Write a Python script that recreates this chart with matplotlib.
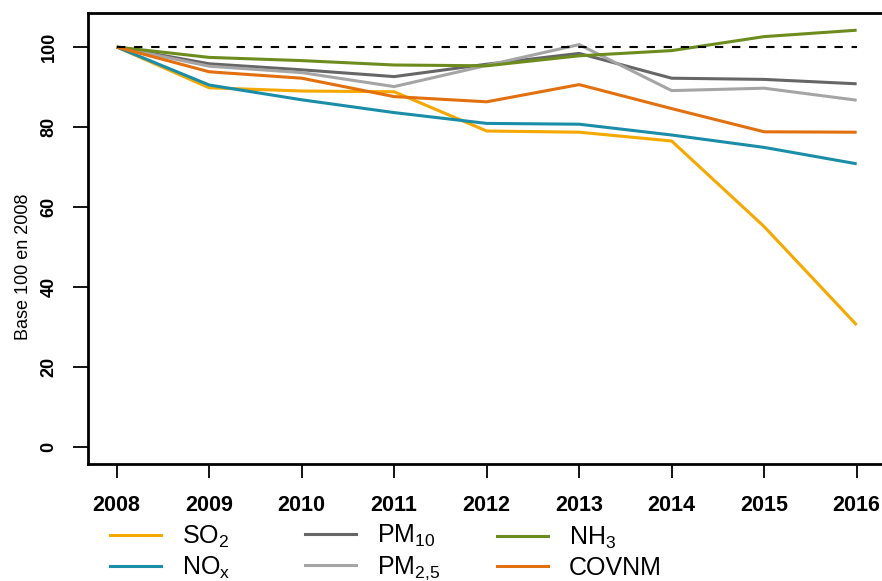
import matplotlib
matplotlib.use("Agg")
import matplotlib.pyplot as plt
from matplotlib.lines import Line2D

# indices base 100 en 2008
years = [2008, 2009, 2010, 2011, 2012, 2013, 2014, 2015, 2016]
so2 = [100, 89.8, 89.0, 88.8, 79.0, 78.7, 76.5, 55.1, 30.5]
nox = [100, 90.5, 86.8, 83.6, 80.9, 80.7, 78.0, 74.9, 70.8]
pm10 = [100, 95.8, 94.3, 92.6, 95.7, 98.4, 92.2, 91.9, 90.8]
pm25 = [100, 95.2, 93.6, 90.1, 95.4, 100.6, 89.1, 89.7, 86.7]
nh3 = [100, 97.4, 96.6, 95.5, 95.3, 97.8, 99.1, 102.6, 104.2]
covnm = [100, 93.8, 92.2, 87.6, 86.3, 90.6, 84.6, 78.8, 78.7]

names = ["SO$_2$", "NO$_{\\mathrm{x}}$", "PM$_{10}$", "PM$_{2{,}5}$", "NH$_3$", "COVNM"]
colors = ["#F5A800", "#1A8DA8", "#666666", "#A5A5A5", "#6D8C1E", "#E2700E"]
series = [so2, nox, pm10, pm25, nh3, covnm]

plt.rcParams["font.family"] = ["Liberation Sans", "DejaVu Sans"]
plt.rcParams["mathtext.fontset"] = "custom"
plt.rcParams["mathtext.rm"] = "Liberation Sans"
plt.rcParams["mathtext.it"] = "Liberation Sans"
plt.rcParams["mathtext.default"] = "regular"

W, H = 882, 581
fig = plt.figure(figsize=(W / 100, H / 100), dpi=100)
ax = fig.add_axes([88 / W, (H - 464) / H, (W - 88) / W, (464 - 13) / H])

for vals, c in zip(series, colors):
    ax.plot(years, vals, color=c, lw=2.2, solid_capstyle="butt", solid_joinstyle="miter")
ax.plot([years[0], years[-1]], [100, 100], color="black", lw=1.5,
        dashes=(4, 4.2), zorder=5)

ax.set_xlim(2007.69, 2016.274)
ax.set_ylim(-4.25, 108.5)
ax.set_xticks(years)
ax.set_xticklabels([str(y) for y in years], fontsize=15.5, fontweight="bold")
ax.set_yticks([0, 20, 40, 60, 80, 100])
ax.set_yticklabels(["0", "20", "40", "60", "80", "100"], fontsize=13,
                   fontweight="bold", rotation=90, va="center")
ax.tick_params(axis="x", length=10, width=1.3, pad=12.5)
ax.tick_params(axis="y", length=10.8, width=1.3, pad=11)
ax.spines["right"].set_visible(False)
for s in ["left", "top", "bottom"]:
    ax.spines[s].set_linewidth(2)
ax.set_ylabel("Base 100 en 2008", fontsize=13)
ax.yaxis.set_label_coords(-0.071, 0.437)

# legende en trois colonnes sous le graphique
col_x = [110, 305, 497]
for k, x0 in enumerate(col_x):
    handles = [Line2D([], [], color=colors[i], lw=2.2) for i in (2 * k, 2 * k + 1)]
    labels = [names[i] for i in (2 * k, 2 * k + 1)]
    fig.legend(handles, labels, loc="center left",
               bbox_to_anchor=(x0 / W, (H - 552.5) / H), frameon=False,
               fontsize=18, handlelength=2.05, handletextpad=0.82,
               borderpad=0, borderaxespad=0, labelspacing=0.2)

fig.savefig("out.png", dpi=100)
